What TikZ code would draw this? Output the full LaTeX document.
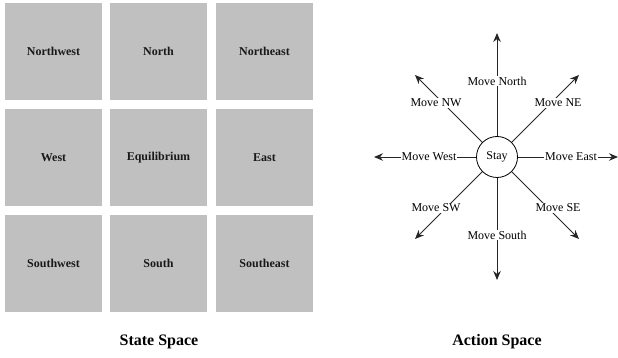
\documentclass[tikz,border=0pt]{standalone}
\usepackage{fontspec}
\setmainfont{Liberation Serif}
\usetikzlibrary{arrows.meta}
\definecolor{boxgray}{HTML}{C0C0C0}
\begin{document}
\begin{tikzpicture}[x=1pt,y=-1pt,
  statebox/.style={fill=boxgray, draw=none, minimum width=97pt, minimum height=97pt, inner sep=0pt,
    font=\fontsize{12}{14}\selectfont\bfseries, text=black!90},
  actlabel/.style={fill=white, inner sep=1pt, font=\fontsize{12}{14}\selectfont},
  actarrow/.style={draw=black!85, line width=0.9pt, -{Stealth[length=9pt,width=7.5pt]}},
  title/.style={font=\fontsize{16}{18}\selectfont\bfseries}
]
\useasboundingbox (0,0) rectangle (618,358);
% State space grid
\node[statebox] (nw) at (53.5,51.5) {Northwest};
\node[statebox] (n)  at (158.5,51.5) {North};
\node[statebox] (ne) at (264.5,51.5) {Northeast};
\node[statebox] (w)  at (53.5,157.5) {West};
\node[statebox] (eq) at (158.5,157.5) {Equilibrium};
\node[statebox] (e)  at (264.5,157.5) {East};
\node[statebox] (sw) at (53.5,263.5) {Southwest};
\node[statebox] (s)  at (158.5,263.5) {South};
\node[statebox] (se) at (264.5,263.5) {Southeast};
\node[title] (st) at (159,342) {State Space};
% Action space
\node[draw=black, line width=0.8pt, circle, minimum size=41pt, inner sep=0pt,
  font=\fontsize{12}{14}\selectfont] (stay) at (497,157) {Stay};
\coordinate (tN) at (497,33);
\coordinate (tS) at (497,280);
\coordinate (tE) at (618,157);
\coordinate (tW) at (374,157);
\coordinate (tNE) at (579,75);
\coordinate (tNW) at (415,75);
\coordinate (tSE) at (579,239);
\coordinate (tSW) at (415,239);
\foreach \t in {tN,tS,tE,tW,tNE,tNW,tSE,tSW}{
  \draw[actarrow] (stay) -- (\t);
}
\node[actlabel] (lN) at (497,81) {Move North};
\node[actlabel] (lS) at (497,235) {Move South};
\node[actlabel] (lE) at (571,157) {Move East};
\node[actlabel] (lW) at (429,157) {Move West};
\node[actlabel] (lNE) at (558,103) {Move NE};
\node[actlabel] (lNW) at (436,103) {Move NW};
\node[actlabel] (lSE) at (558,208) {Move SE};
\node[actlabel] (lSW) at (436,208) {Move SW};
\node[title] (as) at (497,342) {Action Space};
\end{tikzpicture}
\end{document}
